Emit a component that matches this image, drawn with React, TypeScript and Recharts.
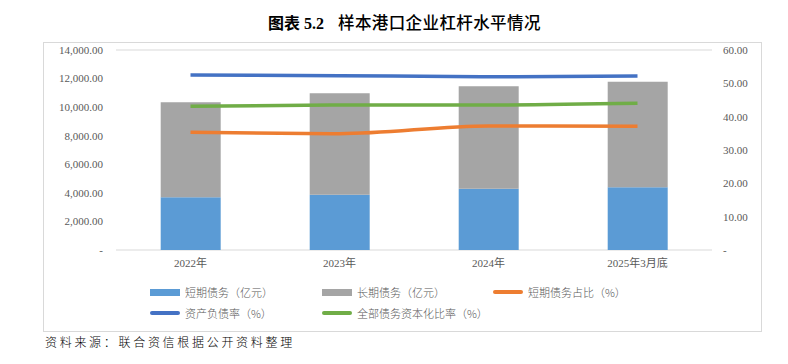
import React from 'react';
import { ComposedChart, Bar, Line, XAxis, YAxis, CartesianGrid } from 'recharts';

const categories = ['2022年', '2023年', '2024年', '2025年3月底'];
const shortDebt = [3690, 3870, 4290, 4390];
const longDebt = [6650, 7100, 7170, 7390];
const shortShare = [35.3, 34.9, 37.2, 37.1];
const assetLiability = [52.5, 52.3, 52.0, 52.2];
const capitalization = [43.1, 43.5, 43.5, 44.0];
const leftTicks = [0, 2000, 4000, 6000, 8000, 10000, 12000, 14000];
const rightTicks = [0, 10, 20, 30, 40, 50, 60];

const names = {
  shortDebt: '短期债务（亿元）',
  longDebt: '长期债务（亿元）',
  shortShare: '短期债务占比（%）',
  assetLiability: '资产负债率（%）',
  capitalization: '全部债务资本化比率（%）',
};
const colors = {
  shortDebt: '#5B9BD5',
  longDebt: '#A5A5A5',
  shortShare: '#ED7D31',
  assetLiability: '#4472C4',
  capitalization: '#70AD47',
};

const data = categories.map((c, i) => ({
  name: c,
  shortDebt: shortDebt[i],
  longDebt: longDebt[i],
  shortShare: shortShare[i],
  assetLiability: assetLiability[i],
  capitalization: capitalization[i],
}));

const fmt = (v: number) =>
  v === 0 ? '-' : v.toLocaleString('en-US', { minimumFractionDigits: 2, maximumFractionDigits: 2 });

const tickStyle = { fontFamily: '"Liberation Serif", "Noto Sans CJK SC", serif', fontSize: 11, fill: '#595959' };

const legendRows: { key: keyof typeof names; type: 'rect' | 'line'; x: number; y: number }[] = [
  { key: 'shortDebt', type: 'rect', x: 150, y: 292 },
  { key: 'longDebt', type: 'rect', x: 322, y: 292 },
  { key: 'shortShare', type: 'line', x: 493, y: 292 },
  { key: 'assetLiability', type: 'line', x: 150, y: 313 },
  { key: 'capitalization', type: 'line', x: 322, y: 313 },
];

export default function App() {
  return (
    <div style={{ position: 'absolute', left: 0, top: 0, width: 788, height: 364, background: '#fff', overflow: 'hidden' }}>
      <div
        style={{
          position: 'absolute',
          left: 268,
          top: 11,
          fontFamily: '"Liberation Serif", "Noto Sans CJK SC", serif',
          fontWeight: 700,
          fontSize: 16,
          color: '#000',
          whiteSpace: 'nowrap',
          lineHeight: '22px',
        }}
      >
        <span>图表 5.2</span>
        <span style={{ marginLeft: 14, fontFamily: '"Noto Sans CJK SC", sans-serif', fontWeight: 500, fontSize: 16.5, letterSpacing: 0.4 }}>
          样本港口企业杠杆水平情况
        </span>
      </div>
      <div
        style={{
          position: 'absolute',
          left: 43,
          top: 42,
          width: 719,
          height: 290,
          border: '1px solid #D9D9D9',
          boxSizing: 'border-box',
        }}
      />
      <div style={{ position: 'absolute', left: 0, top: 0 }}>
        <ComposedChart width={788} height={364} data={data} margin={{ top: 50, right: 26, bottom: 84, left: 46 }} barCategoryGap="30%">
          <CartesianGrid vertical={false} stroke="#D9D9D9" strokeWidth={1} />
          <XAxis dataKey="name" axisLine={false} tickLine={false} tick={tickStyle} height={30} tickMargin={3} interval={0} />
          <YAxis
            yAxisId="left"
            orientation="left"
            domain={[0, 14000]}
            ticks={leftTicks}
            tickFormatter={fmt}
            axisLine={false}
            tickLine={false}
            tick={tickStyle}
            width={70}
            tickMargin={7}
            interval={0}
          />
          <YAxis
            yAxisId="right"
            orientation="right"
            domain={[0, 60]}
            ticks={rightTicks}
            tickFormatter={fmt}
            axisLine={false}
            tickLine={false}
            tick={{ ...tickStyle, textAnchor: 'start' }}
            width={50}
            tickMargin={5}
            interval={0}
          />
          <Bar yAxisId="left" dataKey="shortDebt" stackId="a" fill={colors.shortDebt} isAnimationActive={false} />
          <Bar yAxisId="left" dataKey="longDebt" stackId="a" fill={colors.longDebt} isAnimationActive={false} />
          <Line yAxisId="right" type="monotone" dataKey="shortShare" stroke={colors.shortShare} strokeWidth={3.5} dot={false} isAnimationActive={false} />
          <Line yAxisId="right" type="monotone" dataKey="assetLiability" stroke={colors.assetLiability} strokeWidth={3.5} dot={false} isAnimationActive={false} />
          <Line yAxisId="right" type="monotone" dataKey="capitalization" stroke={colors.capitalization} strokeWidth={3.5} dot={false} isAnimationActive={false} />
        </ComposedChart>
      </div>
      {legendRows.map((r) => (
        <div key={r.key} style={{ position: 'absolute', left: r.x, top: r.y - 8, height: 16, display: 'flex', alignItems: 'center', whiteSpace: 'nowrap' }}>
          <div
            style={{
              width: 30,
              height: r.type === 'rect' ? 7 : 4,
              borderRadius: r.type === 'rect' ? 0 : 2,
              background: colors[r.key],
            }}
          />
          <span style={{ marginLeft: 5, fontFamily: '"Noto Sans CJK SC", sans-serif', fontSize: 11, color: '#595959', fontWeight: 300 }}>
            {names[r.key]}
          </span>
        </div>
      ))}
      <div
        style={{
          position: 'absolute',
          left: 45,
          top: 334,
          fontFamily: '"Noto Sans CJK SC", sans-serif',
          fontSize: 12,
          fontWeight: 300,
          letterSpacing: 2.7,
          color: '#000',
          whiteSpace: 'nowrap',
          lineHeight: '16px',
        }}
      >
        资料来源：联合资信根据公开资料整理
      </div>
    </div>
  );
}
